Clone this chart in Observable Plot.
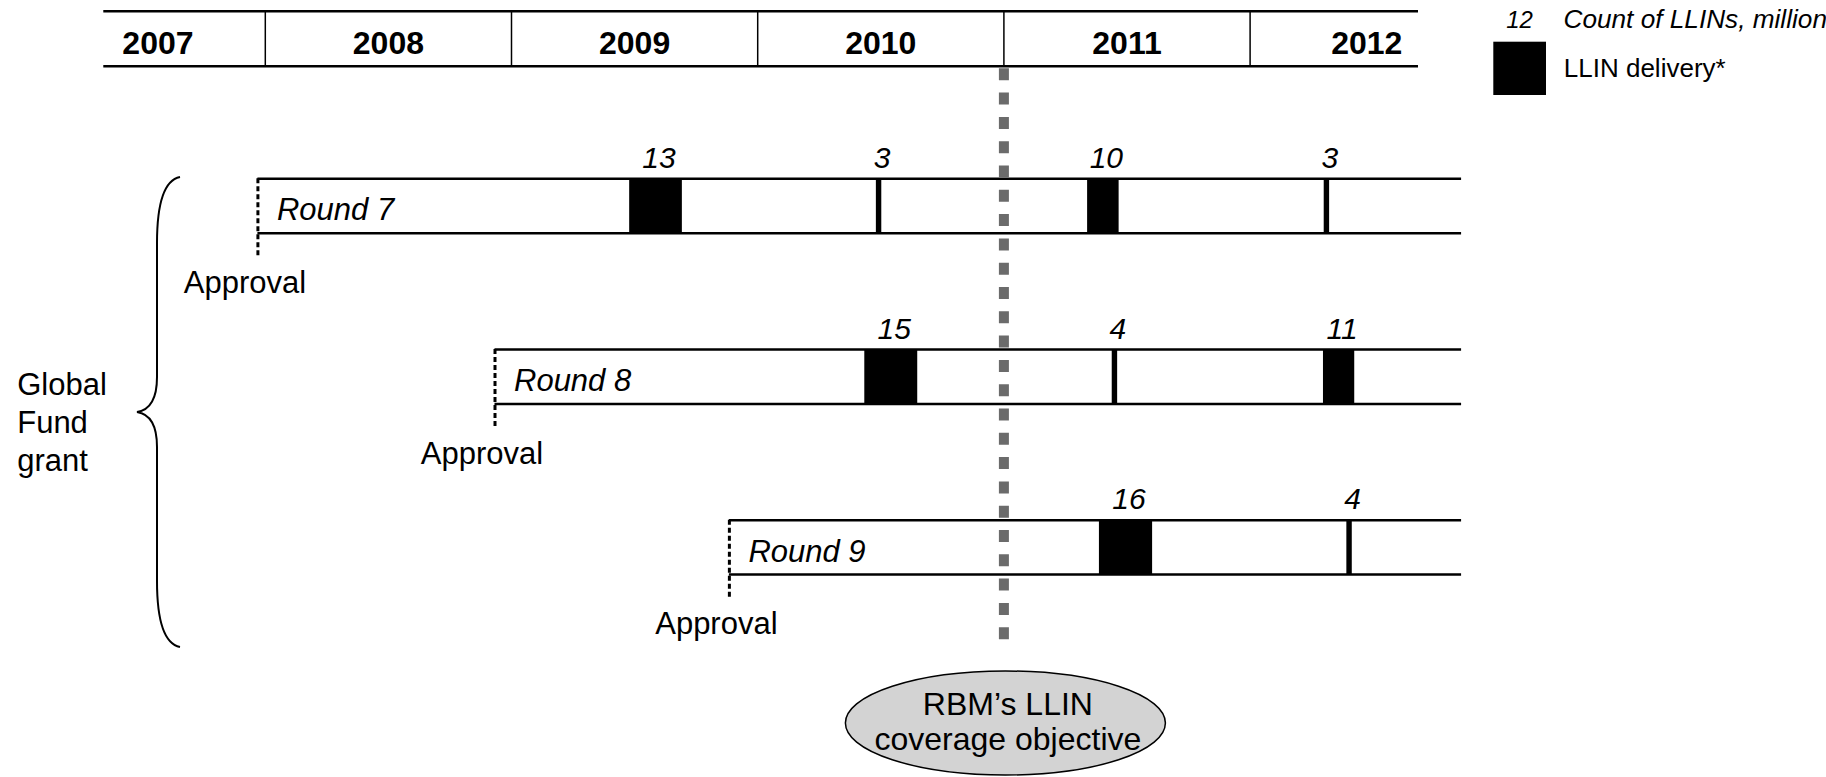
<!DOCTYPE html>
<html>
<head>
<meta charset="utf-8">
<script src="https://cdn.jsdelivr.net/npm/d3@7"></script>
<script src="https://cdn.jsdelivr.net/npm/@observablehq/plot@0.6"></script>
<style>
  html, body { margin: 0; padding: 0; background: #ffffff; overflow: hidden; }
  #chart svg { display: block; }
</style>
</head>
<body>
<div id="chart"></div>
<script>
// ---------------- data ----------------
const years = [2007, 2008, 2009, 2010, 2011, 2012];
const timelineStart = 2007.344;   // visible start of the year header
const timelineEnd = 2012.684;     // visible end of the year header
const grantsEnd = 2012.859;       // grant bars run past the header

const rounds = ["Round 7", "Round 8", "Round 9"];
const approvalDates = [2007.970, 2008.933, 2009.885];

const deliveryRound = ["Round 7", "Round 7", "Round 7", "Round 7", "Round 8", "Round 8", "Round 8", "Round 9", "Round 9"];
const deliveryStart = [2009.480, 2010.482, 2011.340, 2012.301, 2010.435, 2011.440, 2012.298, 2011.388, 2012.393];
const deliveryEnd   = [2009.694, 2010.504, 2011.468, 2012.323, 2010.650, 2011.462, 2012.425, 2011.604, 2012.415];
const deliveryCount = [13, 3, 10, 3, 15, 4, 11, 16, 4];

const objectiveDate = 2011.0;
const objectiveLabel = ["RBM\u2019s LLIN", "coverage objective"];
const groupLabel = ["Global", "Fund", "grant"];
const legendCountValue = "12";
const legendCountText = "Count of LLINs, million";
const legendDeliveryText = "LLIN delivery*";

// ---------------- layout ----------------
const W = 1826, H = 777;
const HEADER_TOP = 10.7, HEADER_BOTTOM = 65.7;
const ROW0 = 205.5, ROW_STEP = 170.7, BAR_HALF = 27.2;

const rowData = rounds.map((round, i) => ({
  round,
  approval: approvalDates[i],
  cy: ROW0 + i * ROW_STEP
}));
const rowCy = Object.fromEntries(rowData.map(d => [d.round, d.cy]));
const deliveries = deliveryRound.map((round, i) => ({
  round,
  start: deliveryStart[i],
  end: deliveryEnd[i],
  count: deliveryCount[i],
  cy: rowCy[round]
}));

const clampYear = v => Math.max(timelineStart + 0.22, Math.min(timelineEnd - 0.21, v));
const FONT = "'Liberation Sans', Arial, Helvetica, sans-serif";

// brace (annotation)
const brace = () => {
  const p = d3.create("svg:path")
    .attr("d", "M180,177 C165,180 157,200 157,243 L157,377 C157,398 150,410 137,412 C150,414 157,426 157,447 L157,581 C157,624 165,644 180,647")
    .attr("fill", "none")
    .attr("stroke", "black")
    .attr("stroke-width", 2);
  return p.node();
};

// ellipse around the objective label, centred on the objective date
const ellipse = (index, scales) => {
  const e = d3.create("svg:ellipse")
    .attr("cx", scales.x(objectiveDate) + 2)
    .attr("cy", 723)
    .attr("rx", 160)
    .attr("ry", 52)
    .attr("fill", "#d3d3d3")
    .attr("stroke", "black")
    .attr("stroke-width", 1.5);
  return e.node();
};

// legend swatch
const legendSwatch = () => {
  const r = d3.create("svg:rect")
    .attr("x", 1493.3).attr("y", 41.7)
    .attr("width", 52.7).attr("height", 53.3)
    .attr("fill", "black");
  return r.node();
};

const chart = Plot.plot({
  width: W,
  height: H,
  margin: 0,
  x: {domain: [2008, 2012], range: [264.8, 1249.6], axis: null},
  y: {domain: [0, H], range: [0, H], axis: null},
  style: {fontFamily: FONT, background: "white", color: "black", overflow: "hidden"},
  marks: [
    // year header
    Plot.ruleY([HEADER_TOP, HEADER_BOTTOM], {y: d => d, x1: () => timelineStart, x2: () => timelineEnd, stroke: "black", strokeWidth: 2.5}),
    Plot.ruleX(years.slice(1), {x: d => d, y1: () => HEADER_TOP, y2: () => HEADER_BOTTOM, stroke: "black", strokeWidth: 1.5}),
    Plot.text(years, {x: d => clampYear(d + 0.5), y: () => 53, text: d => String(d), fontSize: 32, fontWeight: "bold", lineAnchor: "bottom", textAnchor: "middle"}),

    // grant bars (top and bottom edges)
    Plot.ruleY(rowData, {y: d => d.cy - BAR_HALF, x1: "approval", x2: () => grantsEnd, stroke: "black", strokeWidth: 2.5}),
    Plot.ruleY(rowData, {y: d => d.cy + BAR_HALF, x1: "approval", x2: () => grantsEnd, stroke: "black", strokeWidth: 2.5}),
    // approval dashed line
    Plot.ruleX(rowData, {x: "approval", y1: d => d.cy - BAR_HALF, y2: d => d.cy + BAR_HALF + 25, stroke: "black", strokeWidth: 3, strokeDasharray: "5,3"}),
    Plot.text(rowData, {x: "approval", y: d => d.cy + 14.2, text: "round", dx: 19, textAnchor: "start", lineAnchor: "bottom", fontSize: 31, fontStyle: "italic"}),
    Plot.text(rowData, {x: "approval", y: d => d.cy + BAR_HALF + 59.8, text: () => "Approval", dx: -13, textAnchor: "middle", lineAnchor: "bottom", fontSize: 31}),

    // deliveries
    Plot.rect(deliveries, {x1: "start", x2: "end", y1: d => d.cy - BAR_HALF, y2: d => d.cy + BAR_HALF, fill: "black"}),
    Plot.text(deliveries, {x: d => (d.start + d.end) / 2, y: d => d.cy - BAR_HALF - 10.8, text: d => String(d.count), dx: 3, textAnchor: "middle", lineAnchor: "bottom", fontSize: 30, fontStyle: "italic"}),

    // objective line
    Plot.ruleX([objectiveDate], {x: d => d, y1: () => 68.3, y2: () => 639.3, stroke: "#6b6b6b", strokeWidth: 10, strokeDasharray: "12,12.3"}),

    // brace + group label
    brace,
    Plot.text([groupLabel.join("\n")], {frameAnchor: "top-left", dx: 16.7, dy: 470, text: d => d, textAnchor: "start", lineAnchor: "bottom", lineHeight: 1.21, fontSize: 31}),

    // objective ellipse
    ellipse,
    Plot.text([objectiveLabel.join("\n")], {x: () => objectiveDate, y: () => 749, text: d => d, dx: 4, textAnchor: "middle", lineAnchor: "bottom", lineHeight: 1.07, fontSize: 32}),

    // legend
    legendSwatch,
    Plot.text([legendCountValue], {frameAnchor: "top-left", dx: 1519, dy: 27.3, text: d => d, textAnchor: "middle", lineAnchor: "bottom", fontSize: 24, fontStyle: "italic"}),
    Plot.text([legendCountText], {frameAnchor: "top-left", dx: 1563, dy: 27.3, text: d => d, textAnchor: "start", lineAnchor: "bottom", fontSize: 26.2, fontStyle: "italic"}),
    Plot.text([legendDeliveryText], {frameAnchor: "top-left", dx: 1563.3, dy: 76, text: d => d, textAnchor: "start", lineAnchor: "bottom", fontSize: 26})
  ]
});

document.getElementById("chart").appendChild(chart);
</script>
</body>
</html>
